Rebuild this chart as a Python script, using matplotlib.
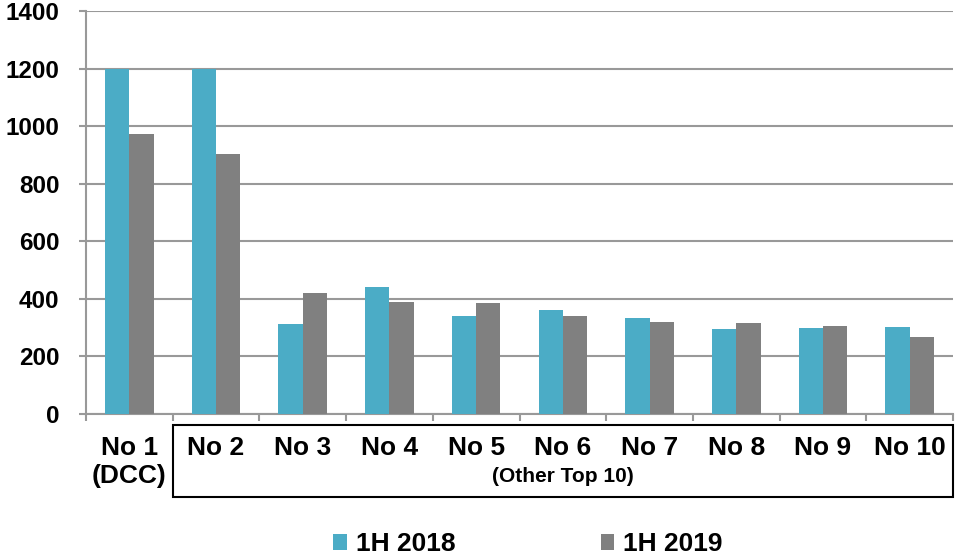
import numpy as np
import matplotlib.pyplot as plt
from matplotlib.patches import Rectangle
from matplotlib.transforms import blended_transform_factory

# data
categories = ["No 1\n(DCC)", "No 2", "No 3", "No 4", "No 5",
              "No 6", "No 7", "No 8", "No 9", "No 10"]
h1_2018 = [1200, 1200, 311, 442, 342, 361, 333, 295, 298, 301]
h1_2019 = [972, 904, 421, 389, 384, 340, 320, 316, 304, 268]
y_ticks = [0, 200, 400, 600, 800, 1000, 1200, 1400]

teal = "#4BACC6"
grey = "#808080"
axis_grey = "#999999"

plt.rcParams['font.family'] = ['Liberation Sans', 'DejaVu Sans']
plt.rcParams['font.weight'] = 'bold'

fig = plt.figure(figsize=(9.55, 5.57), dpi=100)
ax = fig.add_axes([86 / 955, (557 - 414) / 557, 867 / 955, 403 / 557])

x = np.arange(len(categories))
w = 0.28
ax.bar(x - w / 2, h1_2018, w, color=teal, label="1H 2018", zorder=3)
ax.bar(x + w / 2, h1_2019, w, color=grey, label="1H 2019", zorder=3)

ax.set_xlim(-0.5, len(categories) - 0.5)
ax.set_ylim(0, 1400)
ax.set_yticks(y_ticks, labels=[str(v) for v in y_ticks],
              fontsize=17.5, fontweight='bold')
ax.yaxis.grid(True, color=axis_grey, linewidth=1.5, zorder=0)

# labels in the middle, ticks at category boundaries
ax.set_xticks(x, labels=categories, fontsize=19, fontweight='bold',
              linespacing=1.2)
ax.set_xticks(np.arange(-0.5, len(categories)), minor=True)
ax.tick_params(axis='x', which='major', length=0, pad=16)
ax.tick_params(axis='x', which='minor', length=5, width=1.5, color=axis_grey)
ax.tick_params(axis='y', length=5, width=1.5, color=axis_grey, pad=14)

for side in ['top', 'right']:
    ax.spines[side].set_visible(False)
for side in ['left', 'bottom']:
    ax.spines[side].set_color(axis_grey)
    ax.spines[side].set_linewidth(1.5)

# box around "other top 10"
trans = blended_transform_factory(ax.transData, fig.transFigure)
box = Rectangle((0.5, (557 - 497) / 557), 9.0, 72 / 557, transform=trans,
                fill=False, edgecolor='black', linewidth=1.5, clip_on=False)
fig.add_artist(box)
ax.text(5.0, (557 - 476) / 557, "(Other Top 10)", transform=trans,
        ha='center', va='center', fontsize=15, fontweight='bold')

fig.legend(loc='center', bbox_to_anchor=(528 / 955, 1 - 544 / 557), ncol=2,
           frameon=False, handlelength=0.5, handleheight=0.55,
           handletextpad=0.35, columnspacing=5.5,
           prop={'weight': 'bold', 'size': 19})

fig.savefig("out.png", dpi=100)
